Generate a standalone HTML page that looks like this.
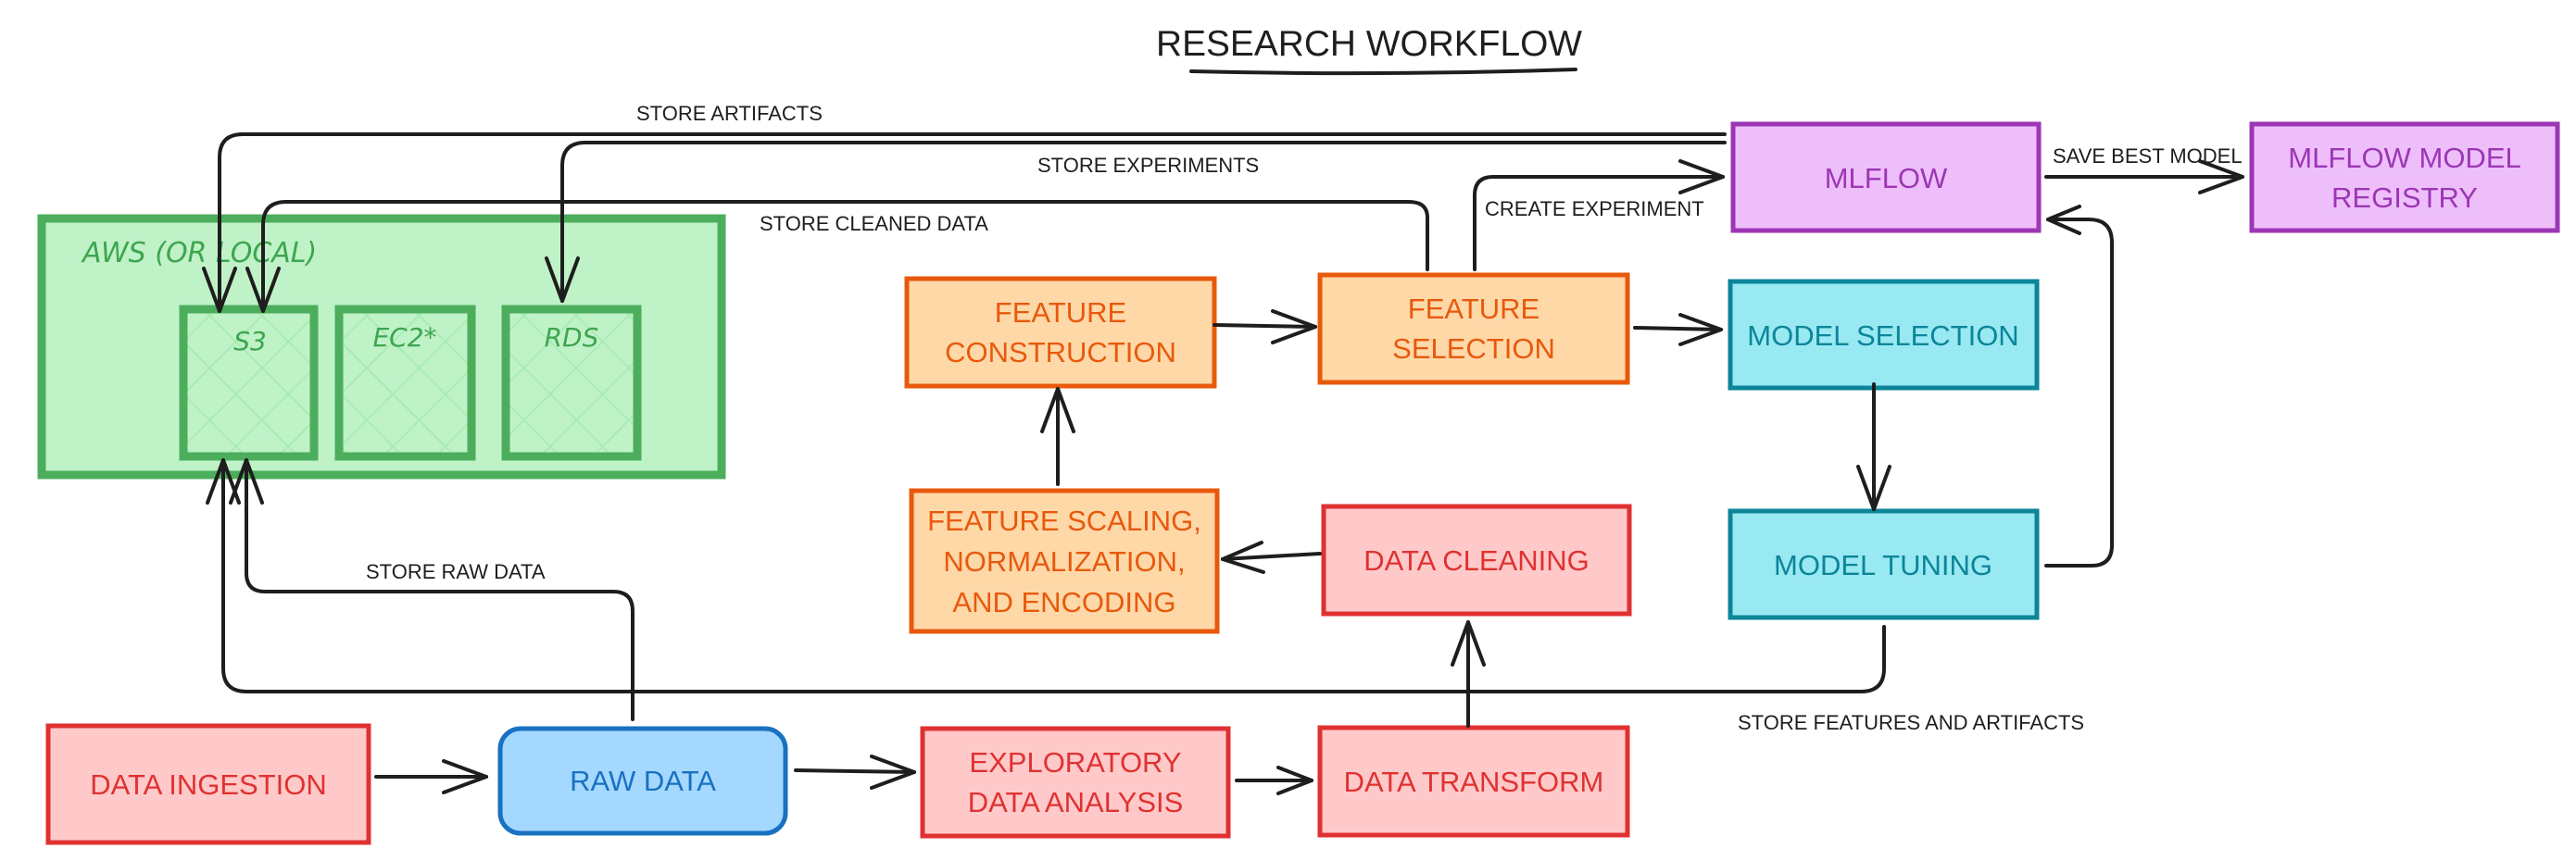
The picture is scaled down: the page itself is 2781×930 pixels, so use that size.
<!DOCTYPE html>
<html><head><meta charset="utf-8"><style>
html,body{margin:0;padding:0;background:#fff;}
svg{display:block;}
text{font-family:"Liberation Sans",sans-serif;}
.bx{stroke-width:5;}
.ln{fill:none;stroke:#1e1e1e;stroke-width:4;stroke-linecap:round;stroke-linejoin:round;}
.lb{font-size:22px;fill:#1e1e1e;}
.t{font-size:31px;text-anchor:middle;}
.g{font-family:"DejaVu Sans",sans-serif;fill:#3ea54f;font-style:italic;}
</style></head><body>
<svg width="2781" height="930" viewBox="0 0 2781 930" xmlns="http://www.w3.org/2000/svg">
<defs>
<pattern id="hatch" width="40" height="40" patternUnits="userSpaceOnUse" patternTransform="rotate(45)">
<path d="M0 0 H40 M0 0 V40" stroke="#a8ecb4" stroke-width="4" fill="none"/>
</pattern>
</defs>
<text x="1478" y="60" font-size="39" text-anchor="middle" fill="#1e1e1e" textLength="460" lengthAdjust="spacingAndGlyphs">RESEARCH WORKFLOW</text>
<path d="M1286 77 Q1490 82 1701 75" class="ln" stroke-width="5"/>

<rect x="45" y="236" width="734" height="277" fill="#c0f2c8" stroke="#4cae5c" stroke-width="9"/>
<text x="89" y="283" class="g" font-size="30">AWS (OR LOCAL)</text>
<rect x="198" y="334" width="141" height="159" fill="url(#hatch)" stroke="#4cae5c" stroke-width="9"/>
<rect x="366" y="334" width="143" height="159" fill="url(#hatch)" stroke="#4cae5c" stroke-width="9"/>
<rect x="546" y="334" width="142" height="159" fill="url(#hatch)" stroke="#4cae5c" stroke-width="9"/>
<text x="270" y="378" class="g" font-size="28" text-anchor="middle">S3</text>
<text x="437" y="374" class="g" font-size="28" text-anchor="middle">EC2*</text>
<text x="617" y="374" class="g" font-size="28" text-anchor="middle">RDS</text>

<rect x="979" y="301" width="332" height="116" fill="#ffd8a8" stroke="#e8590c" class="bx"/>
<text class="t" fill="#e8590c" x="1145" y="348">FEATURE</text>
<text class="t" fill="#e8590c" x="1145" y="391">CONSTRUCTION</text>

<rect x="984" y="530" width="330" height="152" fill="#ffd8a8" stroke="#e8590c" class="bx"/>
<text class="t" fill="#e8590c" x="1149" y="573">FEATURE SCALING,</text>
<text class="t" fill="#e8590c" x="1149" y="617">NORMALIZATION,</text>
<text class="t" fill="#e8590c" x="1149" y="661">AND ENCODING</text>

<rect x="1425" y="297" width="332" height="116" fill="#ffd8a8" stroke="#e8590c" class="bx"/>
<text class="t" fill="#e8590c" x="1591" y="344">FEATURE</text>
<text class="t" fill="#e8590c" x="1591" y="387">SELECTION</text>

<rect x="1871" y="134" width="330" height="115" fill="#eebefa" stroke="#9c36b5" class="bx"/>
<text class="t" fill="#9c36b5" x="2036" y="203">MLFLOW</text>

<rect x="2431" y="134" width="330" height="115" fill="#eebefa" stroke="#9c36b5" class="bx"/>
<text class="t" fill="#9c36b5" x="2596" y="181">MLFLOW MODEL</text>
<text class="t" fill="#9c36b5" x="2596" y="224">REGISTRY</text>

<rect x="1868" y="304" width="331" height="115" fill="#99e9f2" stroke="#0c8599" class="bx"/>
<text class="t" fill="#0c8599" x="2033" y="373">MODEL SELECTION</text>

<rect x="1868" y="552" width="331" height="115" fill="#99e9f2" stroke="#0c8599" class="bx"/>
<text class="t" fill="#0c8599" x="2033" y="621">MODEL TUNING</text>

<rect x="1429" y="547" width="330" height="116" fill="#ffc9c9" stroke="#e03131" class="bx"/>
<text class="t" fill="#e03131" x="1594" y="616">DATA CLEANING</text>

<rect x="1425" y="786" width="332" height="116" fill="#ffc9c9" stroke="#e03131" class="bx"/>
<text class="t" fill="#e03131" x="1591" y="855">DATA TRANSFORM</text>

<rect x="996" y="787" width="330" height="116" fill="#ffc9c9" stroke="#e03131" class="bx"/>
<text class="t" fill="#e03131" x="1161" y="834">EXPLORATORY</text>
<text class="t" fill="#e03131" x="1161" y="877">DATA ANALYSIS</text>

<rect x="52" y="784" width="346" height="126" fill="#ffc9c9" stroke="#e03131" class="bx"/>
<text class="t" fill="#e03131" x="225" y="858">DATA INGESTION</text>

<rect x="540" y="787" width="308" height="113" rx="22" fill="#a5d8ff" stroke="#1971c2" class="bx"/>
<text class="t" fill="#1971c2" x="694" y="854">RAW DATA</text>

<path class="ln" d="M1862 145 L262 145 Q237 145 237 170 L237 336"/>
<path class="ln" d="M220 290 L237 336 L254 290"/>
<text class="lb" x="687" y="130">STORE ARTIFACTS</text>
<path class="ln" d="M1862 154 L632 154 Q607 154 607 179 L607 325"/>
<path class="ln" d="M590 279 L607 325 L624 279"/>
<text class="lb" x="1120" y="186">STORE EXPERIMENTS</text>
<path class="ln" d="M1541 291 L1541 235 Q1541 218 1521 218 L309 218 Q284 218 284 243 L284 336"/>
<path class="ln" d="M267 290 L284 336 L301 290"/>
<text class="lb" x="820" y="249">STORE CLEANED DATA</text>
<path class="ln" d="M1592 291 L1592 211 Q1592 191 1612 191 L1860 191"/>
<path class="ln" d="M1814 174 L1860 191 L1814 208"/>
<text class="lb" x="1603" y="233">CREATE EXPERIMENT</text>
<path class="ln" d="M2209 191 L2421 191"/>
<path class="ln" d="M2375 174 L2421 191 L2375 208"/>
<text class="lb" x="2216" y="176">SAVE BEST MODEL</text>
<path class="ln" d="M1311 351 L1420 353"/>
<path class="ln" d="M1374 336 L1420 353 L1374 370"/>
<path class="ln" d="M1765 354 L1858 356"/>
<path class="ln" d="M1814 340 L1858 356 L1814 372"/>
<path class="ln" d="M2023 415 L2023 550"/>
<path class="ln" d="M2006 504 L2023 550 L2040 504"/>
<path class="ln" d="M2209 611 L2258 611 Q2280 611 2280 589 L2280 262 Q2280 237 2255 237 L2211 237"/>
<path class="ln" d="M2245 223 L2211 237 L2245 252"/>
<path class="ln" d="M1142 523 L1142 420"/>
<path class="ln" d="M1125 466 L1142 420 L1159 466"/>
<path class="ln" d="M1425 598 L1320 604"/>
<path class="ln" d="M1362 586 L1320 604 L1364 618"/>
<path class="ln" d="M1585 784 L1585 672"/>
<path class="ln" d="M1568 718 L1585 672 L1602 718"/>
<path class="ln" d="M2034 677 L2034 722 Q2034 747 2009 747 L266 747 Q241 747 241 722 L241 497"/>
<path class="ln" d="M224 543 L241 497 L258 543"/>
<text class="lb" x="1876" y="788">STORE FEATURES AND ARTIFACTS</text>
<path class="ln" d="M683 777 L683 660 Q683 639 662 639 L286 639 Q266 639 266 619 L266 497"/>
<path class="ln" d="M249 543 L266 497 L283 543"/>
<text class="lb" x="395" y="625">STORE RAW DATA</text>
<path class="ln" d="M406 839 L525 839"/>
<path class="ln" d="M479 822 L525 839 L479 856"/>
<path class="ln" d="M859 832 L987 834"/>
<path class="ln" d="M941 817 L987 834 L941 851"/>
<path class="ln" d="M1335 843 L1416 843"/>
<path class="ln" d="M1380 829 L1416 843 L1380 857"/>
</svg>
</body></html>
